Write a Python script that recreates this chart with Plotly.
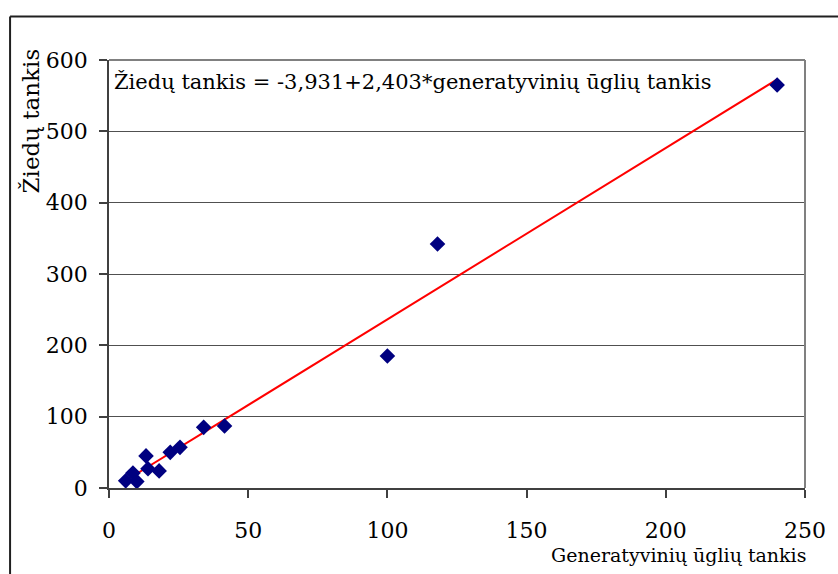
import plotly.graph_objects as go

# Data
gen_tankis = [6, 10, 8.6, 13.3, 14, 18, 22, 25.5, 34, 41.5, 100, 118, 240]
zied_tankis = [10, 9, 21, 45, 27, 24, 50, 57, 85, 87, 185, 342, 565]
intercept = -3.931
slope = 2.403
x_ticks = [0, 50, 100, 150, 200, 250]
y_ticks = [0, 100, 200, 300, 400, 500, 600]

FONT = "DejaVu Serif"

x_line = [min(gen_tankis), max(gen_tankis)]
y_line = [intercept + slope * v for v in x_line]

fig = go.Figure()
fig.add_trace(go.Scatter(x=x_line, y=y_line, mode="lines",
                         line=dict(color="#ff0000", width=2), showlegend=False,
                         hoverinfo="skip"))
fig.add_trace(go.Scatter(x=gen_tankis, y=zied_tankis, mode="markers",
                         marker=dict(symbol="diamond", size=12, color="#000080",
                                     line=dict(width=0)),
                         showlegend=False))

W, H = 838, 574
L, R, T, B = 109, 29, 60, 86
pw, ph = W - L - R, H - T - B

def px(xpix):
    return (xpix - L) / pw

def py(ypix):
    return (H - B - ypix) / ph

fig.update_layout(
    width=W, height=H,
    margin=dict(l=L, r=R, t=T, b=B),
    paper_bgcolor="white", plot_bgcolor="white",
    font=dict(family=FONT, size=22, color="black"),
    xaxis=dict(range=[0, 250], tickvals=x_ticks, ticktext=[str(v) for v in x_ticks],
               showgrid=False, zeroline=False, showline=True, linecolor="#404040",
               linewidth=1.5, ticks="outside", ticklen=8, tickcolor="#404040",
               tickwidth=1.5, ticklabelstandoff=14, tickfont=dict(family=FONT, size=22)),
    yaxis=dict(range=[0, 600], tickvals=y_ticks, ticktext=[str(v) for v in y_ticks],
               showgrid=True, gridcolor="#505050", gridwidth=1.2, zeroline=False,
               showline=True, linecolor="#404040", linewidth=1.5, ticks="outside",
               ticklen=8, tickcolor="#404040", tickwidth=1.5, ticklabelstandoff=7,
               tickfont=dict(family=FONT, size=22)),
    shapes=[
        dict(type="line", xref="paper", yref="paper", x0=0, x1=1, y0=1, y1=1,
             line=dict(color="#808080", width=2), layer="above"),
        dict(type="line", xref="paper", yref="paper", x0=1, x1=1, y0=0, y1=1,
             line=dict(color="#808080", width=2), layer="above"),
        dict(type="line", xref="paper", yref="paper", x0=px(9.5), x1=px(W + 5),
             y0=py(16.5), y1=py(16.5), line=dict(color="#202020", width=2), layer="above"),
        dict(type="line", xref="paper", yref="paper", x0=px(9.5), x1=px(9.5),
             y0=py(16.5), y1=py(H + 5), line=dict(color="#202020", width=2), layer="above"),
    ],
    annotations=[
        dict(text="Žiedų tankis = -3,931+2,403*generatyvinių ūglių tankis",
             xref="paper", yref="paper", x=px(110), y=py(82), xanchor="left",
             yanchor="middle", showarrow=False, bgcolor="white", borderpad=3,
             font=dict(family=FONT, size=21, color="black")),
        dict(text="Žiedų tankis", xref="paper", yref="paper", x=px(31), y=py(121),
             xanchor="center", yanchor="middle", textangle=-90, showarrow=False,
             font=dict(family=FONT, size=23, color="black")),
        dict(text="Generatyvinių ūglių tankis", xref="paper", yref="paper",
             x=px(812), y=py(555), xanchor="right", yanchor="middle", showarrow=False,
             font=dict(family=FONT, size=19, color="black")),
    ],
)

fig.write_html("out.html")
